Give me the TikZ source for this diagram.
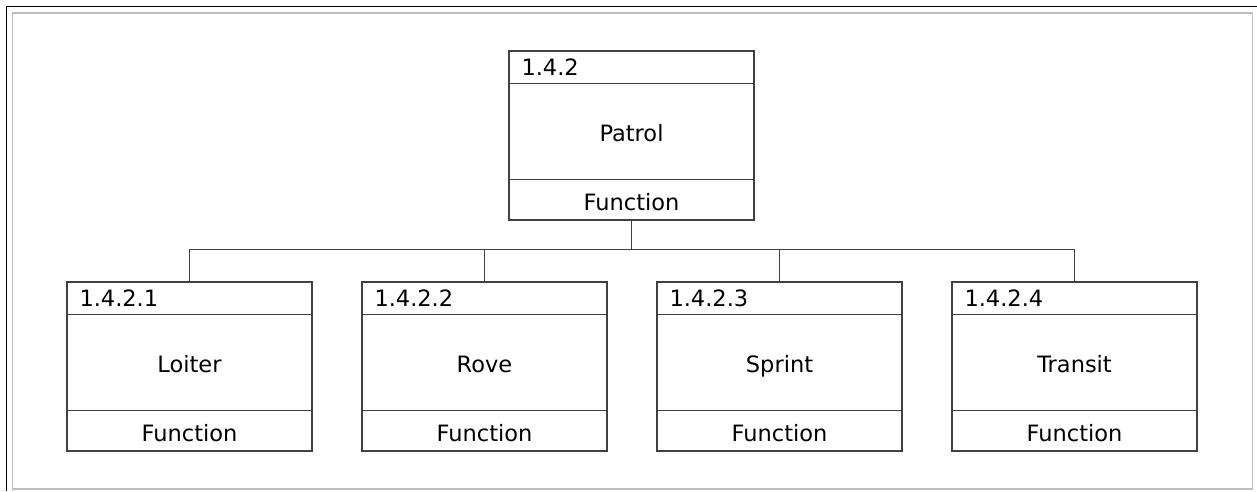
\documentclass[tikz,border=0pt]{standalone}
\usepackage{fontspec}
\setmainfont{DejaVu Sans}
\usepackage{tikz}
\usetikzlibrary{calc}
\definecolor{linegray}{RGB}{64,64,64}
\definecolor{framegray}{RGB}{190,190,190}
\tikzstyle{fblock} = [rectangle, draw=linegray, line width=1.4pt, fill=none, minimum width=245pt, minimum height=169pt, inner sep=0pt]
\tikzstyle{fline} = [draw=linegray, line width=1.4pt]

% one function block: name, x, y, number, title
\newcommand{\fnblock}[5]{%
  \node[fblock] (#1) at (#2,#3) {};
  \draw[fline] ($(#1.north west)+(0,33)$) -- ($(#1.north east)+(0,33)$);
  \draw[fline] ($(#1.south west)+(0,-41)$) -- ($(#1.south east)+(0,-41)$);
  \node[anchor=base west, inner sep=0pt] (#1-num) at ($(#1.north west)+(13,25)$) {#4};
  \node[anchor=base, inner sep=0pt] (#1-title) at ($(#1.north)+(0,91)$) {#5};
  \node[anchor=base, inner sep=0pt] (#1-kind) at ($(#1.south)+(0,-10)$) {Function};
}

\begin{document}
\begin{tikzpicture}[x=1pt, y=-1pt, font=\fontsize{22.5}{26}\selectfont]
\useasboundingbox (0,0) rectangle (1257,491);
\fill[white] (0,0) rectangle (1257,491);
% frame
\draw[black, line width=1.6pt] (6.5,491) -- (6.5,6.5) -- (1257,6.5);
\draw[framegray, line width=1.4pt] (12.5,491) -- (12.5,13) -- (1252.5,13) -- (1252.5,489) -- (12.5,489);

\fnblock{patrol}{631.5}{135.5}{1.4.2}{Patrol}
\fnblock{loiter}{189.5}{366.5}{1.4.2.1}{Loiter}
\fnblock{rove}{484.5}{366.5}{1.4.2.2}{Rove}
\fnblock{sprint}{779.5}{366.5}{1.4.2.3}{Sprint}
\fnblock{transit}{1074.5}{366.5}{1.4.2.4}{Transit}

\coordinate (bus) at ($(patrol.south)+(0,29)$);
\draw[fline] (patrol.south) -- (bus);
\foreach \b in {loiter,rove,sprint,transit}
  \draw[fline] (\b.north) |- (bus);
\end{tikzpicture}
\end{document}
